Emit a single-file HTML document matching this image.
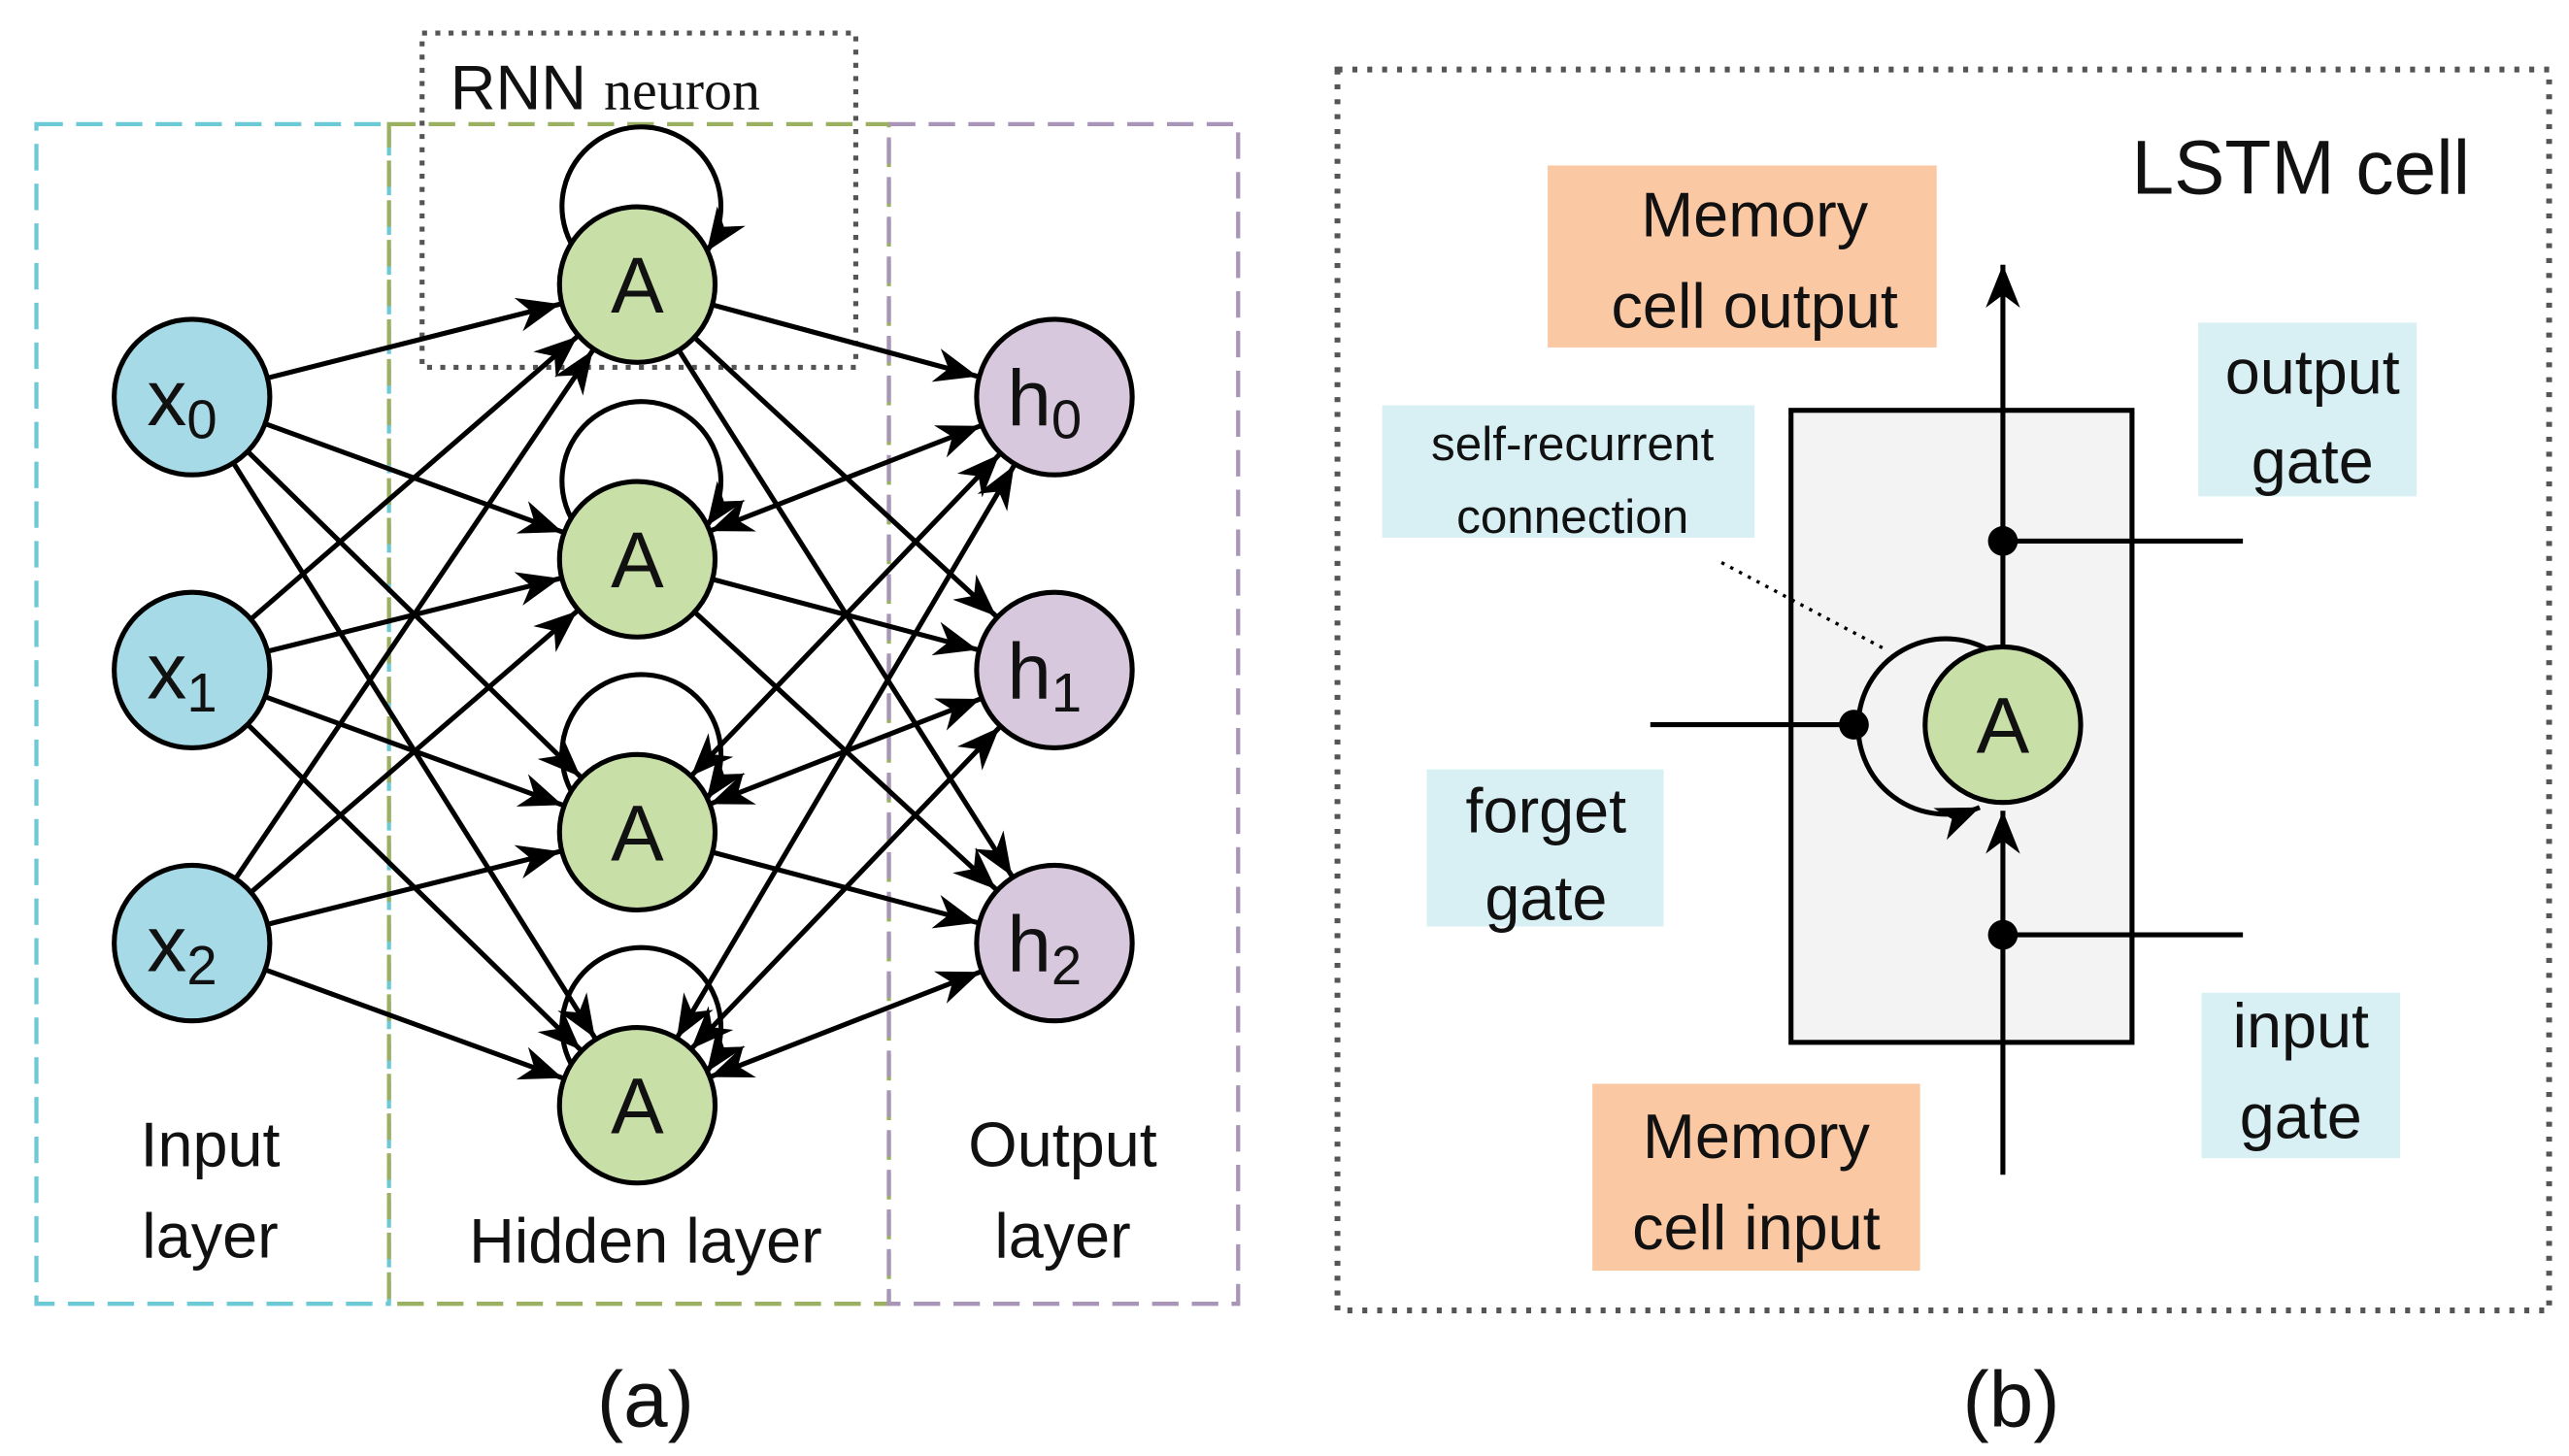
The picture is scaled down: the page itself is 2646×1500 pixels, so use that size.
<!DOCTYPE html>
<html><head><meta charset="utf-8"><style>
html,body{margin:0;padding:0;background:#fff}
svg{display:block}
text{font-family:"Liberation Sans",sans-serif;fill:#111}
</style></head><body>
<svg id="s" width="2646" height="1500" viewBox="0 0 1552 880" preserveAspectRatio="none" xmlns="http://www.w3.org/2000/svg">
<defs>
<marker id="ar2" viewBox="0 0 10 10" refX="10" refY="5" markerWidth="26" markerHeight="26" markerUnits="userSpaceOnUse" orient="auto-start-reverse">
<path d="M0,1 L10,5 L0,9 L3,5 z" fill="#000"/></marker>
</defs>
<rect x="22" y="75" width="213" height="713" fill="none" stroke="#6cc9d6" stroke-width="2.5" stroke-dasharray="16,8"/>
<rect x="235" y="75" width="302" height="713" fill="none" stroke="#9bb060" stroke-width="2.5" stroke-dasharray="16,8"/>
<rect x="537" y="75" width="211" height="713" fill="none" stroke="#a895b8" stroke-width="2.5" stroke-dasharray="16,8"/>
<rect x="255" y="20" width="262" height="202" fill="none" stroke="#555" stroke-width="3" stroke-dasharray="3,5"/>
<text x="272" y="66" font-size="38">RNN <tspan font-size="34" style="font-family:'Liberation Serif',serif">neuron</tspan></text>
<g id="edges" stroke="#000" stroke-width="3"></g>
<g id="nodes"></g>
<text x="127" y="705" font-size="38" text-anchor="middle">Input</text>
<text x="127" y="760" font-size="38" text-anchor="middle">layer</text>
<text x="390" y="763" font-size="38" text-anchor="middle">Hidden layer</text>
<text x="642" y="705" font-size="38" text-anchor="middle">Output</text>
<text x="642" y="760" font-size="38" text-anchor="middle">layer</text>
<text x="390" y="862" font-size="48" text-anchor="middle">(a)</text>
<rect x="808" y="42" width="732" height="750" fill="none" stroke="#555" stroke-width="3.5" stroke-dasharray="3,6"/>
<text x="1390" y="117" font-size="46" text-anchor="middle">LSTM cell</text>
<rect x="935" y="100" width="235" height="110" fill="#fbc8a4"/>
<text x="1060" y="143" font-size="38" text-anchor="middle">Memory</text>
<text x="1060" y="198" font-size="38" text-anchor="middle">cell output</text>
<rect x="962" y="655" width="198" height="113" fill="#fbc8a4"/>
<text x="1061" y="700" font-size="38" text-anchor="middle">Memory</text>
<text x="1061" y="755" font-size="38" text-anchor="middle">cell input</text>
<rect x="1082" y="248" width="206" height="382" fill="#f3f3f3" stroke="#000" stroke-width="3"/>
<rect x="1328" y="195" width="132" height="105" fill="#d8f0f4"/>
<text x="1397" y="238" font-size="38" text-anchor="middle">output</text>
<text x="1397" y="292" font-size="38" text-anchor="middle">gate</text>
<rect x="835" y="245" width="225" height="80" fill="#d8f0f4"/>
<text x="950" y="278" font-size="29" text-anchor="middle">self-recurrent</text>
<text x="950" y="322" font-size="29" text-anchor="middle">connection</text>
<rect x="862" y="465" width="143" height="95" fill="#d8f0f4"/>
<text x="934" y="503" font-size="38" text-anchor="middle">forget</text>
<text x="934" y="556" font-size="38" text-anchor="middle">gate</text>
<rect x="1330" y="600" width="120" height="100" fill="#d8f0f4"/>
<text x="1390" y="633" font-size="38" text-anchor="middle">input</text>
<text x="1390" y="688" font-size="38" text-anchor="middle">gate</text>
<line x1="1040" y1="340" x2="1140" y2="393" stroke="#000" stroke-width="2" stroke-dasharray="2,4"/>
<line x1="1210" y1="710" x2="1210" y2="490" stroke="#000" stroke-width="3" marker-end="url(#ar2)"/>
<line x1="1210" y1="390" x2="1210" y2="160" stroke="#000" stroke-width="3" marker-end="url(#ar2)"/>
<path d="M1205,395 A53,53 0 1,0 1196,488" fill="none" stroke="#000" stroke-width="3" marker-end="url(#ar2)"/>
<circle cx="1210" cy="438" r="47" fill="#c8e0a8" stroke="#000" stroke-width="3"/>
<text x="1210" y="455" font-size="48" text-anchor="middle">A</text>
<line x1="997" y1="438" x2="1120" y2="438" stroke="#000" stroke-width="3"/>
<circle cx="1120" cy="438" r="9"/>
<line x1="1210" y1="327" x2="1355" y2="327" stroke="#000" stroke-width="3"/>
<circle cx="1210" cy="327" r="9"/>
<line x1="1210" y1="565" x2="1355" y2="565" stroke="#000" stroke-width="3"/>
<circle cx="1210" cy="565" r="9"/>
<text x="1215" y="862" font-size="48" text-anchor="middle">(b)</text>
</svg>
<script>
var NS="http://www.w3.org/2000/svg",R=47;
var X=[240,405,570].map(y=>[116,y]),A=[172,338,503,668].map(y=>[385,y]),H=[240,405,570].map(y=>[637,y]);
var E=document.getElementById('edges'),N=document.getElementById('nodes');
function el(t,a,p){var e=document.createElementNS(NS,t);for(var k in a)e.setAttribute(k,a[k]);p.appendChild(e);return e;}
function line(p,q,both){var dx=q[0]-p[0],dy=q[1]-p[1],d=Math.hypot(dx,dy),ux=dx/d,uy=dy/d;
 var o={x1:p[0]+ux*R,y1:p[1]+uy*R,x2:q[0]-ux*(R+1),y2:q[1]-uy*(R+1),'marker-end':'url(#ar2)'};
 if(both)o['marker-start']='url(#ar2)';el('line',o,E);}
X.forEach(p=>A.forEach(q=>line(p,q)));
A.forEach(p=>H.forEach(q=>line(p,q,q[1]<p[1]-10)));
A.forEach(a=>{el('path',{d:'M'+(a[0]-40)+','+(a[1]-25)+' A48,48 0 1,1 '+(a[0]+42)+','+(a[1]-20),fill:'none','marker-end':'url(#ar2)'},E);});
function node(c,fill,lab,sub){el('circle',{cx:c[0],cy:c[1],r:R,fill:fill,stroke:'#000','stroke-width':3},N);
 var t=el('text',{x:c[0]-(sub?6:0),y:c[1]+17,'font-size':48,'text-anchor':'middle'},N);t.textContent=lab;
 if(sub){var s=el('tspan',{'font-size':33,dy:8},t);s.textContent=sub;}}
X.forEach((c,i)=>node(c,'#a6dae6','x',''+i));
A.forEach(c=>node(c,'#c8e0a8','A'));
H.forEach((c,i)=>node(c,'#d8c8de','h',''+i));
</script>
</body></html>
